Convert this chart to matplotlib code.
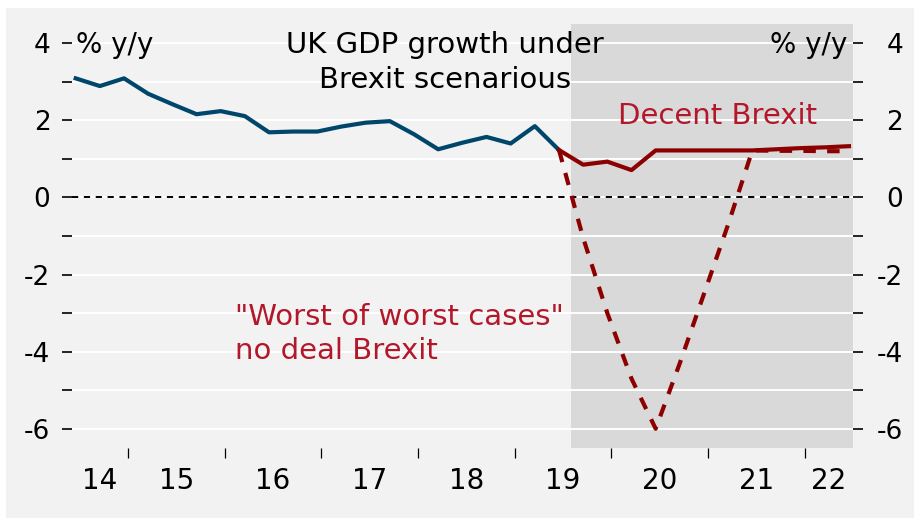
import numpy as np
import pandas as pd
import matplotlib
matplotlib.use("Agg")
import matplotlib.pyplot as plt
from matplotlib.patches import Rectangle

# --- Data (% y/y, quarterly) ---
hist_quarters = pd.period_range("2014Q2", "2019Q2", freq="Q")
fcst_quarters = pd.period_range("2019Q2", "2022Q2", freq="Q")
gdp_actual = [3.09, 2.89, 3.09, 2.69, 2.42, 2.16, 2.24, 2.11, 1.69, 1.71, 1.71,
              1.84, 1.94, 1.98, 1.64, 1.25, 1.42, 1.57, 1.40, 1.85, 1.23]
decent_brexit = [1.23, 0.85, 0.93, 0.71, 1.22, 1.22, 1.22, 1.22, 1.22,
                 1.25, 1.28, 1.30, 1.33]
no_deal = [1.23, -1.05, -3.0, -4.7, -6.0, -4.3, -2.5, -0.7, 1.22,
           1.21, 1.21, 1.20, 1.20]
forecast_from = 2019.58  # start of shaded forecast period
years = np.arange(2014, 2023)
year_labels = ["14", "15", "16", "17", "18", "19", "20", "21", "22"]
y_ticks = [-6, -4, -2, 0, 2, 4]
y_labels = ["-6", "-4", "-2", "0", "2", "4"]

# --- Styling ---
BG = "#f2f2f2"
SHADE = "#d9d9d9"
BLUE = "#00466b"
RED = "#8c0000"
RED_TXT = "#b3172a"
XMIN, XMAX = 2014.42, 2022.5
YMIN, YMAX = -6.5, 4.5


def to_x(periods):
    # each quarter is plotted in the middle of its last month
    return np.array([p.year + (p.quarter * 3 - 0.5) / 12 for p in periods])


fig = plt.figure(figsize=(9.14, 5.18), dpi=100, facecolor="white")
fig.add_artist(Rectangle((6 / 914, 0), 1, 510 / 518, transform=fig.transFigure,
                         facecolor=BG, edgecolor="none", zorder=-10))
ax = fig.add_axes([72 / 914, 70 / 518, 781 / 914, 424 / 518])
ax.set_facecolor(BG)
ax.set_xlim(XMIN, XMAX)
ax.set_ylim(YMIN, YMAX)

ax.axvspan(forecast_from, XMAX, color=SHADE, lw=0, zorder=1)
ax.grid(axis="y", which="both", color="white", lw=1.4)
ax.axhline(0, color="black", lw=1.4, ls=(0, (3.2, 2.9)), zorder=2)

ax.plot(to_x(hist_quarters), gdp_actual, color=BLUE, lw=3.0, zorder=3)
ax.plot(to_x(fcst_quarters), no_deal, color=RED, lw=3.0, ls=(0, (3.0, 2.7)), zorder=3)
ax.plot(to_x(fcst_quarters), decent_brexit, color=RED, lw=3.0, zorder=4)

# y axis: left labels, right labels through a twin axis
ax.set_yticks(y_ticks, y_labels)
ax.set_yticks(np.arange(-5, 5, 2), minor=True)
ax.tick_params(axis="y", which="both", direction="out", length=7, width=1.2,
               labelsize=19, pad=8.5)
ax2 = ax.twinx()
ax2.set_ylim(YMIN, YMAX)
ax2.set_yticks(y_ticks, y_labels, ha="right")
ax2.set_yticks(np.arange(-5, 5, 2), minor=True)
ax2.tick_params(axis="y", which="both", direction="out", length=7, width=1.2,
                labelsize=19, pad=29)

# x axis: year labels centred in each (visible) year, ticks at year boundaries
centers = [(max(y, XMIN) + min(y + 1, XMAX)) / 2 for y in years]
ax.set_xticks(centers, year_labels)
ax.set_xticks(years[1:], minor=True)
ax.tick_params(axis="x", which="major", length=0, pad=14, labelsize=20)
ax.tick_params(axis="x", which="minor", direction="out", length=7, width=0.9)

for a in (ax, ax2):
    for s in a.spines.values():
        s.set_visible(False)

ax.text(0.005, 0.9316, "% y/y", transform=ax.transAxes, fontsize=20, va="baseline")
ax.text(0.9923, 0.9316, "% y/y", transform=ax.transAxes, fontsize=20,
        va="baseline", ha="right")
ax.text(0.4776, 0.9316, "UK GDP growth under", transform=ax.transAxes,
        fontsize=21, va="baseline", ha="center")
ax.text(0.4776, 0.849, "Brexit scenarious", transform=ax.transAxes,
        fontsize=21, va="baseline", ha="center")
ax.text(0.827, 0.764, "Decent Brexit", transform=ax.transAxes, fontsize=21,
        va="baseline", ha="center", color=RED_TXT)
ax.text(0.2087, 0.290, "\"Worst of worst cases\"", transform=ax.transAxes,
        fontsize=21, va="baseline", color=RED_TXT)
ax.text(0.2087, 0.210, "no deal Brexit", transform=ax.transAxes,
        fontsize=21, va="baseline", color=RED_TXT)

fig.savefig("out.png", dpi=100, facecolor=fig.get_facecolor())
